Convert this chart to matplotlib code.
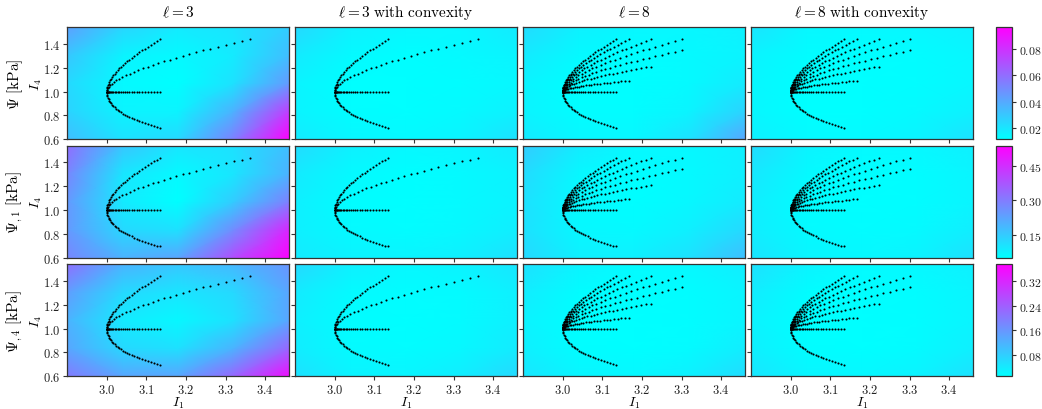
import matplotlib
matplotlib.use('Agg')
import matplotlib.pyplot as plt
from matplotlib.colors import Normalize
from matplotlib.cm import ScalarMappable
from matplotlib.ticker import FormatStrFormatter

plt.rcParams['mathtext.fontset'] = 'cm'
plt.rcParams['font.family'] = 'DejaVu Serif'

# ---- load paths (I1, I4) ----
# squared stretch along the loaded direction (fiber along the stretch)
I4_along = [1.0, 1.0134, 1.0268, 1.0404, 1.0540, 1.0678, 1.0816, 1.0955, 1.1095, 1.1236,
            1.1378, 1.1520, 1.1664, 1.1808, 1.1954, 1.2100, 1.2247, 1.2395, 1.2544, 1.2694,
            1.2844, 1.2996, 1.3148, 1.3302, 1.3456, 1.3611, 1.3767, 1.3924, 1.4082, 1.4240, 1.4400]
# fiber perpendicular to the plane
I4_across = [1.0, 0.9868, 0.9739, 0.9612, 0.9487, 0.9365, 0.9246, 0.9128, 0.9013, 0.8900,
             0.8789, 0.8680, 0.8573, 0.8469, 0.8366, 0.8264, 0.8165, 0.8068, 0.7972, 0.7878,
             0.7786, 0.7695, 0.7606, 0.7518, 0.7432, 0.7347, 0.7264, 0.7182, 0.7101, 0.7022, 0.6944]
I4_neutral = [1.0] * 31
I1_planar = [3.0, 3.0002, 3.0007, 3.0016, 3.0028, 3.0043, 3.0062, 3.0083, 3.0108, 3.0136,
             3.0167, 3.0201, 3.0237, 3.0277, 3.0319, 3.0365, 3.0412, 3.0463, 3.0516, 3.0572,
             3.0630, 3.0691, 3.0754, 3.0820, 3.0888, 3.0958, 3.1031, 3.1106, 3.1183, 3.1263, 3.1344]
I1_equibiax = [3.0, 3.0005, 3.0021, 3.0047, 3.0082, 3.0126, 3.0180, 3.0242, 3.0314, 3.0393,
               3.0480, 3.0576, 3.0678, 3.0788, 3.0906, 3.1030, 3.1161, 3.1299, 3.1443, 3.1594,
               3.1750, 3.1913, 3.2081, 3.2255, 3.2435, 3.2620, 3.2810, 3.3006, 3.3207, 3.3412, 3.3623]
I1_biax_a = [3.0, 3.0002, 3.0009, 3.0020, 3.0035, 3.0055, 3.0078, 3.0106, 3.0137, 3.0172,
             3.0211, 3.0254, 3.0300, 3.0350, 3.0403, 3.0460, 3.0520, 3.0583, 3.0650, 3.0719,
             3.0792, 3.0868, 3.0947, 3.1028, 3.1113, 3.1201, 3.1291, 3.1384, 3.1480, 3.1578, 3.1679]
I4_biax_a = [1.0, 1.0030, 1.0060, 1.0090, 1.0120, 1.0151, 1.0181, 1.0211, 1.0241, 1.0272,
             1.0302, 1.0333, 1.0363, 1.0394, 1.0424, 1.0455, 1.0486, 1.0517, 1.0547, 1.0578,
             1.0609, 1.0640, 1.0671, 1.0702, 1.0733, 1.0764, 1.0795, 1.0826, 1.0858, 1.0889, 1.0920]
I1_biax_b = [3.0, 3.0003, 3.0012, 3.0027, 3.0048, 3.0075, 3.0107, 3.0144, 3.0186, 3.0234,
             3.0287, 3.0344, 3.0407, 3.0474, 3.0545, 3.0621, 3.0702, 3.0786, 3.0875, 3.0968,
             3.1065, 3.1166, 3.1271, 3.1379, 3.1491, 3.1607, 3.1727, 3.1850, 3.1976, 3.2106, 3.2239]
I4_biax_b = [1.0, 1.0067, 1.0134, 1.0201, 1.0268, 1.0336, 1.0404, 1.0472, 1.0540, 1.0609,
             1.0678, 1.0747, 1.0816, 1.0885, 1.0955, 1.1025, 1.1095, 1.1165, 1.1236, 1.1307,
             1.1378, 1.1449, 1.1520, 1.1592, 1.1664, 1.1736, 1.1808, 1.1881, 1.1954, 1.2027, 1.2100]
I1_biax_c = [3.0, 3.0004, 3.0017, 3.0038, 3.0067, 3.0103, 3.0147, 3.0199, 3.0257, 3.0322,
             3.0394, 3.0473, 3.0558, 3.0649, 3.0746, 3.0849, 3.0958, 3.1073, 3.1193, 3.1318,
             3.1449, 3.1584, 3.1725, 3.1870, 3.2021, 3.2175, 3.2335, 3.2499, 3.2667, 3.2840, 3.3017]
I4_biax_c = [1.0, 1.0107, 1.0214, 1.0323, 1.0431, 1.0540, 1.0650, 1.0761, 1.0872, 1.0983,
             1.1095, 1.1208, 1.1321, 1.1435, 1.1549, 1.1664, 1.1779, 1.1896, 1.2012, 1.2129,
             1.2247, 1.2365, 1.2484, 1.2604, 1.2724, 1.2844, 1.2966, 1.3087, 1.3210, 1.3333, 1.3456]

paths_l3 = [(I1_planar, I4_along), (I1_planar, I4_neutral), (I1_planar, I4_across),
            (I1_equibiax, I4_along)]
paths_l8 = [(I1_planar, I4_along), (I1_planar, I4_neutral), (I1_planar, I4_across),
            (I1_biax_a, I4_along), (I1_biax_a, I4_biax_a),
            (I1_biax_b, I4_along), (I1_biax_b, I4_biax_b),
            (I1_biax_c, I4_along), (I1_biax_c, I4_biax_c)]

# ---- background fields on a coarse grid (rows: I4 from bottom to top) ----
grid_I1 = [2.90, 3.04, 3.18, 3.32, 3.46]
grid_I4 = [0.60, 0.835, 1.07, 1.305, 1.54]

psi_l3 = [[0.033, 0.021, 0.024, 0.054, 0.097],
          [0.026, 0.015, 0.015, 0.037, 0.076],
          [0.024, 0.013, 0.011, 0.021, 0.045],
          [0.030, 0.015, 0.013, 0.018, 0.033],
          [0.043, 0.025, 0.018, 0.020, 0.028]]
psi_l3_cvx = [[0.018, 0.014, 0.013, 0.015, 0.021],
              [0.015, 0.012, 0.011, 0.013, 0.016],
              [0.015, 0.011, 0.011, 0.012, 0.014],
              [0.018, 0.013, 0.011, 0.013, 0.015],
              [0.024, 0.016, 0.014, 0.014, 0.018]]
psi_l8 = [[0.018, 0.014, 0.014, 0.021, 0.041],
          [0.015, 0.012, 0.012, 0.015, 0.026],
          [0.015, 0.011, 0.011, 0.013, 0.018],
          [0.018, 0.013, 0.011, 0.013, 0.015],
          [0.023, 0.016, 0.014, 0.014, 0.016]]
psi_l8_cvx = [[0.016, 0.013, 0.013, 0.015, 0.021],
              [0.014, 0.011, 0.011, 0.013, 0.016],
              [0.014, 0.011, 0.011, 0.012, 0.014],
              [0.015, 0.012, 0.011, 0.012, 0.014],
              [0.020, 0.014, 0.013, 0.014, 0.016]]

dpsi1_l3 = [[0.280, 0.196, 0.220, 0.390, 0.536],
            [0.245, 0.123, 0.108, 0.269, 0.463],
            [0.245, 0.089, 0.050, 0.147, 0.293],
            [0.280, 0.099, 0.060, 0.099, 0.196],
            [0.330, 0.160, 0.099, 0.108, 0.172]]
dpsi1_l3_cvx = [[0.089, 0.074, 0.069, 0.079, 0.108],
                [0.079, 0.060, 0.055, 0.065, 0.084],
                [0.079, 0.055, 0.050, 0.060, 0.074],
                [0.089, 0.060, 0.050, 0.060, 0.074],
                [0.118, 0.079, 0.065, 0.069, 0.089]]
dpsi1_l8 = [[0.123, 0.079, 0.079, 0.108, 0.172],
            [0.108, 0.065, 0.060, 0.079, 0.123],
            [0.108, 0.060, 0.050, 0.065, 0.089],
            [0.118, 0.065, 0.050, 0.060, 0.079],
            [0.147, 0.089, 0.065, 0.065, 0.079]]
dpsi1_l8_cvx = [[0.099, 0.069, 0.065, 0.074, 0.108],
                [0.084, 0.060, 0.055, 0.060, 0.084],
                [0.084, 0.055, 0.050, 0.055, 0.069],
                [0.094, 0.060, 0.050, 0.055, 0.069],
                [0.118, 0.074, 0.060, 0.065, 0.079]]

dpsi4_l3 = [[0.200, 0.137, 0.137, 0.229, 0.357],
            [0.137, 0.064, 0.053, 0.119, 0.229],
            [0.119, 0.038, 0.020, 0.053, 0.137],
            [0.148, 0.064, 0.046, 0.064, 0.137],
            [0.215, 0.119, 0.090, 0.111, 0.163]]
dpsi4_l3_cvx = [[0.053, 0.027, 0.024, 0.035, 0.064],
                [0.035, 0.016, 0.013, 0.020, 0.038],
                [0.031, 0.013, 0.009, 0.016, 0.031],
                [0.038, 0.016, 0.013, 0.016, 0.031],
                [0.064, 0.031, 0.020, 0.027, 0.046]]
dpsi4_l8 = [[0.046, 0.024, 0.020, 0.031, 0.060],
            [0.031, 0.013, 0.009, 0.016, 0.035],
            [0.027, 0.009, 0.009, 0.013, 0.024],
            [0.035, 0.013, 0.009, 0.013, 0.024],
            [0.053, 0.027, 0.016, 0.020, 0.035]]
dpsi4_l8_cvx = [[0.046, 0.024, 0.020, 0.027, 0.053],
                [0.031, 0.013, 0.009, 0.016, 0.031],
                [0.027, 0.009, 0.009, 0.013, 0.024],
                [0.035, 0.013, 0.009, 0.013, 0.024],
                [0.053, 0.027, 0.016, 0.020, 0.031]]

fields = [[psi_l3, psi_l3_cvx, psi_l8, psi_l8_cvx],
          [dpsi1_l3, dpsi1_l3_cvx, dpsi1_l8, dpsi1_l8_cvx],
          [dpsi4_l3, dpsi4_l3_cvx, dpsi4_l8, dpsi4_l8_cvx]]
col_paths = [paths_l3, paths_l3, paths_l8, paths_l8]

titles = [r'$\ell = 3$', r'$\ell = 3\ \mathrm{with\ convexity}$',
          r'$\ell = 8$', r'$\ell = 8\ \mathrm{with\ convexity}$']
row_labels = [r'$\Psi\ [\mathrm{kPa}]$', r'$\Psi_{,1}\ [\mathrm{kPa}]$', r'$\Psi_{,4}\ [\mathrm{kPa}]$']
row_ranges = [(0.011, 0.097), (0.05, 0.536), (0.009, 0.375)]
cbar_ticks = [[0.02, 0.04, 0.06, 0.08], [0.15, 0.30, 0.45], [0.08, 0.16, 0.24, 0.32]]

# ---- layout in pixels ----
W, H = 1042, 410
col_left = [67.3, 295.3, 523.3, 751.3]
ax_w = 221.5
row_top = [28.3, 146.7, 265.3]
ax_h = 112.0
cb_left, cb_w = 996, 16

fig = plt.figure(figsize=(W / 100, H / 100), dpi=100)
edge = '#333333'

for r in range(3):
    norm = Normalize(vmin=row_ranges[r][0], vmax=row_ranges[r][1])
    for c in range(4):
        ax = fig.add_axes([col_left[c] / W, 1 - (row_top[r] + ax_h) / H, ax_w / W, ax_h / H])
        ax.pcolormesh(grid_I1, grid_I4, fields[r][c], shading='gouraud', cmap='cool', norm=norm)
        for x, y in col_paths[c]:
            ax.plot(x, y, 'o', color='black', markersize=1.5, markeredgewidth=0)
        ax.set_xlim(2.9, 3.46)
        ax.set_ylim(0.6, 1.54)
        ax.set_xticks([3.0, 3.1, 3.2, 3.3, 3.4])
        ax.set_yticks([0.6, 0.8, 1.0, 1.2, 1.4])
        ax.xaxis.set_major_formatter(FormatStrFormatter(r'$%.1f$'))
        ax.yaxis.set_major_formatter(FormatStrFormatter(r'$%.1f$'))
        ax.tick_params(labelsize=9, length=3, width=0.8, color=edge, labelcolor='#222222', pad=2)
        for s in ax.spines.values():
            s.set_color(edge)
            s.set_linewidth(0.9)
        if r < 2:
            ax.tick_params(labelbottom=False)
        else:
            ax.set_xlabel(r'$I_1$', fontsize=10, labelpad=-1)
        if c > 0:
            ax.tick_params(labelleft=False)
        else:
            ax.set_ylabel(r'$I_4$', fontsize=10, labelpad=-1)
            ax.text(-0.235, 0.5, row_labels[r], transform=ax.transAxes, rotation=90,
                    ha='center', va='center', fontsize=11)
        if r == 0:
            ax.set_title(titles[c], fontsize=11, pad=8)

    cax = fig.add_axes([cb_left / W, 1 - (row_top[r] + ax_h) / H, cb_w / W, ax_h / H])
    cb = fig.colorbar(ScalarMappable(norm=norm, cmap='cool'), cax=cax, ticks=cbar_ticks[r])
    cb.ax.yaxis.set_major_formatter(FormatStrFormatter(r'$%.2f$'))
    cb.ax.tick_params(labelsize=8.5, length=3, width=0.8, color=edge, labelcolor='#222222', pad=2)
    cb.outline.set_edgecolor(edge)
    cb.outline.set_linewidth(0.9)

fig.savefig('out.png', dpi=100)
